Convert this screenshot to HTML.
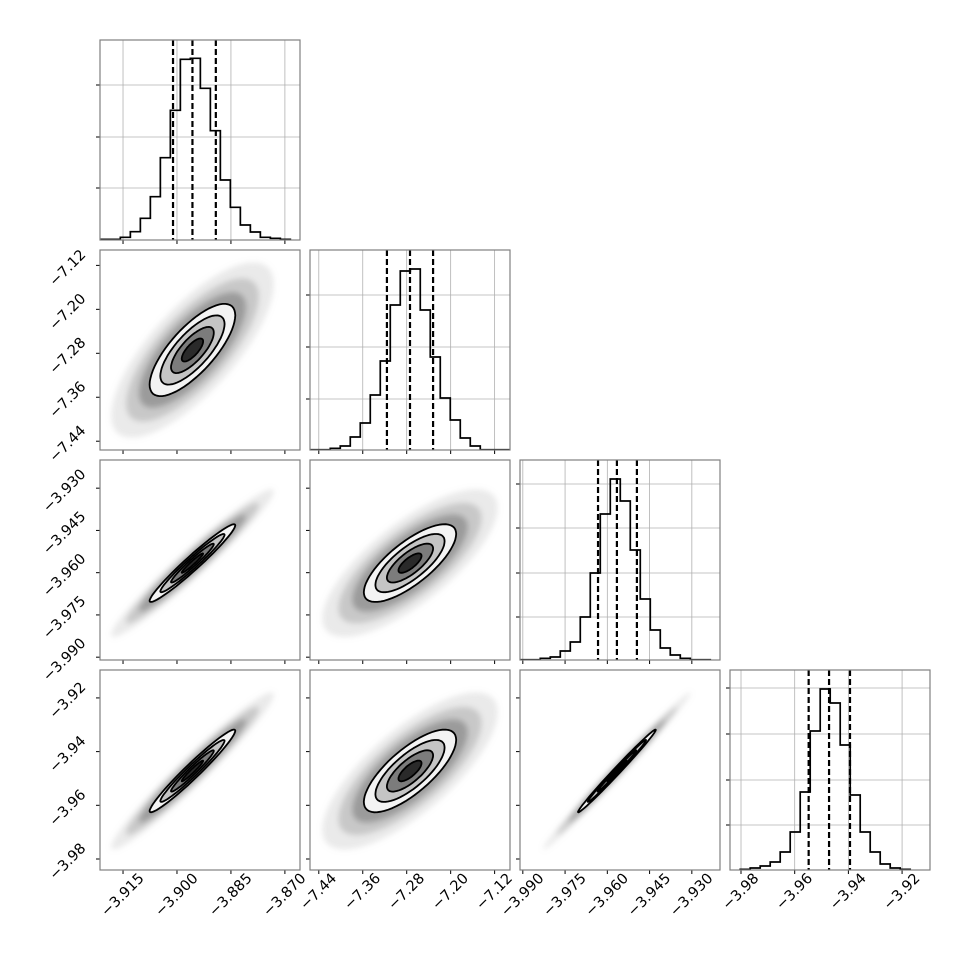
<!DOCTYPE html>
<html><head><meta charset="utf-8"><style>
html,body{margin:0;padding:0;background:#fff;}
svg{display:block;font-family:"DejaVu Sans","Liberation Sans",sans-serif;}
</style></head><body>
<svg id="chart" width="970" height="970" viewBox="0 0 970 970" xmlns="http://www.w3.org/2000/svg">
<defs>
<filter id="blur" x="-50%" y="-50%" width="200%" height="200%"><feGaussianBlur stdDeviation="3"/></filter>
</defs>
</svg>
<script>
// ---- data ----
const paramRanges = [[-3.9214,-3.8658],[-7.456,-7.092],[-3.991,-3.920],[-3.9841,-3.9096]];
const paramTicks = [[-3.915,-3.900,-3.885,-3.870],[-7.44,-7.36,-7.28,-7.20,-7.12],[-3.990,-3.975,-3.960,-3.945,-3.930],[-3.98,-3.96,-3.94,-3.92]];
const tickLabels = [["−3.915","−3.900","−3.885","−3.870"],["−7.44","−7.36","−7.28","−7.20","−7.12"],["−3.990","−3.975","−3.960","−3.945","−3.930"],["−3.98","−3.96","−3.94","−3.92"]];
const histStart = [-3.9213,-7.4555,-3.9909,-3.9803];
const histBinWidth = [0.00278,0.0182,0.00355,0.003725];
const histCounts0 = [0.7,0.7,2.7,8.3,21.7,43.3,82.3,129.7,180.7,181.7,151.7,109.3,60,32.7,15,8,2.7,1.7,0.7];
const histCounts1 = [0.3,0.3,1.7,4,13,27,55,89,145,179,181,140,93,52,30,12,4,0.3,0.3,0.3];
const histCounts2 = [0.3,0.3,1.7,3,9,18,43,87,146,181,159,110,61,30,12,5,1.7,0.3,0.3];
const histCounts3 = [0.7,2,4,8,18,38,78,139,181,167,125,75,38,18,6,2,0.7];
const histCounts = [histCounts0,histCounts1,histCounts2,histCounts3];
const countTicks = [[52,103,155],[51,103,155],[43,87,132,176],[45,90,136,182]];
const countMax = 200;
const quantiles0 = [-3.9011,-3.8957,-3.8892];
const quantiles1 = [-7.316,-7.274,-7.232];
const quantiles2 = [-3.9633,-3.9566,-3.9495];
const quantiles3 = [-3.9548,-3.9472,-3.9394];
const quantiles = [quantiles0,quantiles1,quantiles2,quantiles3];
const means = [-3.8957,-7.274,-3.9566,-3.9472];
const sds = [0.00595,0.042,0.0069,0.0077];
const corr = [[1,0.75,0.97,0.97],[0.75,1,0.75,0.75],[0.97,0.75,1,0.993],[0.97,0.75,0.993,1]];
const contourLevels = [2,1.5,1,0.5];
const contourFills = ["#f3f3f3","#c4c4c4","#7c7c7c","#2a2a2a"];

// ---- layout ----
const NS="http://www.w3.org/2000/svg";
const svg=document.getElementById('chart');
const P0X=100,P0Y=40,SZ=200,GAP=10;
function mk(tag,attrs,parent){const e=document.createElementNS(NS,tag);for(const k in attrs)e.setAttribute(k,attrs[k]);(parent||svg).appendChild(e);return e;}
function xScale(p,x0){const r=paramRanges[p];return v=>x0+(v-r[0])/(r[1]-r[0])*SZ;}
function yScale(p,y0){const r=paramRanges[p];return v=>y0+SZ-(v-r[0])/(r[1]-r[0])*SZ;}
function cScale(y0){return c=>y0+SZ-c/countMax*SZ;}

for(let i=0;i<4;i++){
 for(let j=0;j<=i;j++){
  const x0=P0X+j*(SZ+GAP), y0=P0Y+i*(SZ+GAP);
  const g=mk('g',{});
  
  
  const cid='clip'+i+'_'+j;
  const cp=mk('clipPath',{id:cid},g);mk('rect',{x:x0,y:y0,width:SZ,height:SZ},cp);
  const X=xScale(j,x0);
  if(i===j){
   const Y=cScale(y0);
   paramTicks[j].forEach(t=>{const l=mk('line',{x1:X(t),x2:X(t),y1:y0,y2:y0+SZ,stroke:'#b0b0b0','stroke-width':0.8},g);});
   countTicks[i].forEach(t=>{const l=mk('line',{x1:x0,x2:x0+SZ,y1:Y(t),y2:Y(t),stroke:'#b0b0b0','stroke-width':0.8},g);});
   const cnt=histCounts[i];let d='M'+X(histStart[i])+','+Y(0);
   cnt.forEach((c,k)=>{const a=X(histStart[i]+k*histBinWidth[i]),b=X(histStart[i]+(k+1)*histBinWidth[i]);d+=' L'+a+','+Y(c)+' L'+b+','+Y(c);});
   d+=' L'+X(histStart[i]+cnt.length*histBinWidth[i])+','+Y(0);
   const h=mk('path',{d:d,fill:'none',stroke:'#000','stroke-width':1.7,'clip-path':'url(#'+cid+')'},g);
   
   quantiles[i].forEach(q=>{const l=mk('line',{x1:X(q),x2:X(q),y1:y0,y2:y0+SZ,stroke:'#000','stroke-width':2.2,'stroke-dasharray':'6,3'},g);});
   countTicks[i].forEach(t=>{mk('line',{x1:x0-4,x2:x0,y1:Y(t),y2:Y(t),stroke:'#000','stroke-width':1},g);});
  } else {
   const Y=yScale(i,y0);
   const mx=means[j],my=means[i],sx=sds[j],sy=sds[i],r=corr[j][i];
   function ell(k){let pts=[];for(let t=0;t<64;t++){const a=t/64*2*Math.PI;const vx=mx+k*sx*Math.cos(a);const vy=my+k*sy*(r*Math.cos(a)+Math.sqrt(1-r*r)*Math.sin(a));pts.push(X(vx).toFixed(1)+','+Y(vy).toFixed(1));}return pts.join(' ');}
   const cg=mk('g',{'clip-path':'url(#'+cid+')'},g);
   const cloud=mk('g',{filter:'url(#blur)'},cg);
   const c0=mk('polygon',{points:ell(3.8),fill:'#aaa','fill-opacity':0.25},cloud);
   
   const c1=mk('polygon',{points:ell(3.1),fill:'#888','fill-opacity':0.35},cloud);
   
   const c2=mk('polygon',{points:ell(2.5),fill:'#666','fill-opacity':0.45},cloud);
   
   contourLevels.forEach((k,n)=>{const p=mk('polygon',{points:ell(k),fill:contourFills[n],stroke:'#000','stroke-width':1.8,'stroke-linejoin':'round'},cg);});
   paramTicks[i].forEach(t=>{mk('line',{x1:x0-4,x2:x0,y1:Y(t),y2:Y(t),stroke:'#000','stroke-width':1},g);});
   if(j===0){
    paramTicks[i].forEach((t,k)=>{const tx=mk('text',{x:0,y:0,'font-size':14.5,'text-anchor':'middle','dominant-baseline':'central',fill:'#000'},g);tx.textContent=tickLabels[i][k];
     
     const w=tx.getComputedTextLength();const ext=w*0.707+10.6;const cx=89-ext/2,cy=Y(t)+3;
     tx.setAttribute('x',cx);tx.setAttribute('y',cy);tx.setAttribute('transform','rotate(-45 '+cx+' '+cy+')');});
   }
  }
  paramTicks[j].forEach(t=>{mk('line',{x1:X(t),x2:X(t),y1:y0+SZ,y2:y0+SZ+4,stroke:'#000','stroke-width':1},g);});
  if(i===3){
   paramTicks[j].forEach((t,k)=>{const tx=mk('text',{x:0,y:0,'font-size':14.5,'text-anchor':'middle','dominant-baseline':'central',fill:'#000'},g);tx.textContent=tickLabels[j][k];
    
    const w=tx.getComputedTextLength();const ext=w*0.707+10.6;const cx=X(t),cy=871+ext/2;
    tx.setAttribute('x',cx);tx.setAttribute('y',cy);tx.setAttribute('transform','rotate(-45 '+cx+' '+cy+')');});
  }
  const fr=mk('rect',{x:x0,y:y0,width:SZ,height:SZ,fill:'none',stroke:'#808080','stroke-width':1.2},g);
  
 }
}
</script>
</body></html>
